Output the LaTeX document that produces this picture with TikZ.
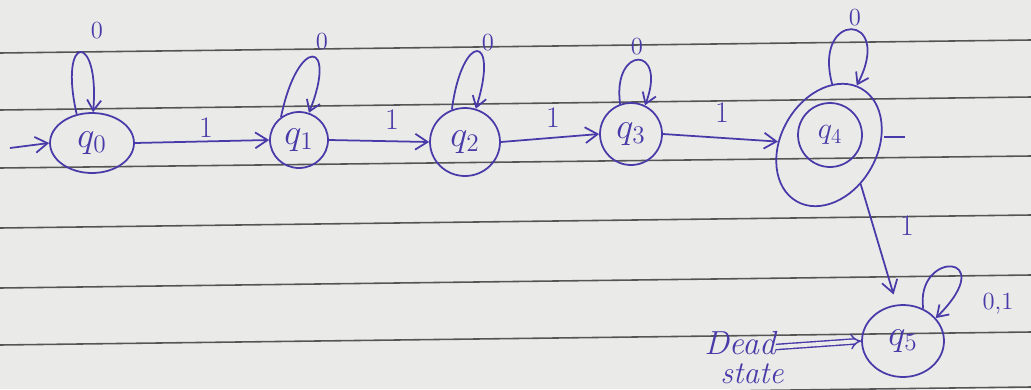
\documentclass[tikz,border=0pt]{standalone}
\usetikzlibrary{shapes.geometric,arrows.meta}
\definecolor{ink}{RGB}{72,58,168}
\definecolor{paper}{RGB}{234,234,232}
\definecolor{rule}{RGB}{85,85,85}
\tikzset{
  x=0.02cm, y=-0.02cm,
  st/.style={draw=ink, ellipse, line width=1pt, inner sep=0pt, text=ink, font=\fontsize{21}{23}\selectfont},
  tr/.style={draw=ink, line width=1pt, -{Straight Barb[length=7pt,width=9pt]}},
  lp/.style={draw=ink, line width=1pt, -{Straight Barb[length=6pt,width=8pt]}},
  zlab/.style={text=ink, font=\fontsize{14}{16}\selectfont, inner sep=0pt},
  olab/.style={text=ink, font=\fontsize{17}{19}\selectfont, inner sep=0pt},
  ruled/.style={draw=rule, line width=0.9pt},
  note/.style={text=ink, font=\fontsize{19}{21}\selectfont\itshape, inner sep=0pt}
}
\begin{document}
\begin{tikzpicture}
\useasboundingbox (0,0) rectangle (1031,389);
\fill[paper] (0,0) rectangle (1031,389);
\begin{scope}
\clip (0,0) rectangle (1031,389);
\draw[ruled] (0,53) -- (1031,40);
\draw[ruled] (0,110) -- (1031,97);
\draw[ruled] (0,168) -- (1031,156);
\draw[ruled] (0,228) -- (1031,215);
\draw[ruled] (0,288) -- (1031,275);
\draw[ruled] (0,345) -- (1031,332);
\draw[ruled] (0,400) -- (1031,387);
\end{scope}

% states
\node[st, minimum width=1.68cm, minimum height=1.2cm] (q0) at (92,143) {$q_0$};
\node[st, minimum width=1.16cm, minimum height=1.12cm] (q1) at (299,140) {$q_1$};
\node[st, minimum width=1.40cm, minimum height=1.36cm] (q2) at (465,142) {$q_2$};
\node[st, minimum width=1.24cm, minimum height=1.24cm] (q3) at (631,134) {$q_3$};
\node[st, minimum width=1.28cm, minimum height=1.28cm, font=\fontsize{17}{19}\selectfont] (q4) at (830,135) {$q_4$};
\node[st, minimum width=2.6cm, minimum height=1.92cm, rotate=60] (q4o) at (829,145) {};
\node[st, minimum width=1.64cm, minimum height=1.44cm] (q5) at (903,341) {$q_5$};

% start arrow
\coordinate (s0) at (10,148);
\draw[tr] (s0) -- (q0.west);

% transitions on 1
\draw[tr] (q0.east) -- (q1.west);
\node[olab] (l01) at (206,128) {1};
\draw[tr] (q1.east) -- (q2.west);
\node[olab] (l12) at (392,120) {1};
\draw[tr] (q2.east) -- (q3.west);
\node[olab] (l23) at (553,118) {1};
\draw[tr] (q3.east) -- (q4o);
\node[olab] (l34) at (722,113) {1};
\draw[tr, shorten >=6pt] (q4o.-111) -- (q5.100);
\node[olab] (l45) at (907,226) {1};

% self loops on 0
\draw[lp] (q0.118) .. controls (58,32) and (100,32) .. (q0.88);
\node[zlab] (z0) at (97,31) {0};
\draw[lp] (q1.128) .. controls (298,35) and (338,40) .. (q1.70);
\node[zlab] (z1) at (322,42) {0};
\draw[lp] (q2.112) .. controls (462,32) and (500,32) .. (q2.72);
\node[zlab] (z2) at (488,43) {0};
\draw[lp] (q3.110) .. controls (612,45) and (668,45) .. (q3.64);
\node[zlab] (z3) at (637,47) {0};
\draw[lp] (q4o.27) .. controls (812,10) and (895,12) .. (q4o.5);
\node[zlab] (z4) at (855,18) {0};

% q5 loop on 0,1
\draw[lp] (q5.58) .. controls (915,250) and (1002,252) .. (q5.35);
\node[zlab] (z5) at (998,304) {0,1};

% stray tick right of q4
\coordinate (tk0) at (884,137);
\coordinate (tk) at (905,137);
\draw[draw=ink, line width=1pt] (tk0) -- (tk);

% dead state note
\node[note] (dead) at (740,343) {Dead};
\node[note, font=\fontsize{18}{20}\selectfont\itshape] (stt) at (752,374) {state};
\draw[draw=ink, line width=0.8pt, double=paper, double distance=2.2pt, -{Implies}] (dead.east) ++(0,4) -- (q5.west);
\end{tikzpicture}
\end{document}
